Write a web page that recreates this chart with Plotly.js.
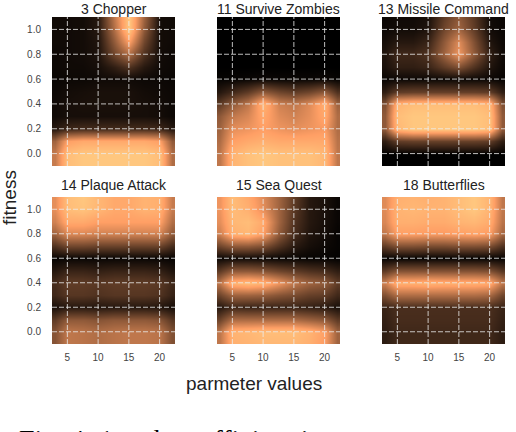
<!DOCTYPE html>
<html>
<head>
<meta charset="utf-8">
<script src="https://cdn.plot.ly/plotly-3.0.1.min.js"></script>
<style>
  html, body { margin: 0; padding: 0; background: #fff; }
  #chart { width: 516px; height: 432px; }
</style>
</head>
<body>
<div id="chart"></div>
<script>
// Columns: parameter values, rows: fitness levels (bottom first)
const paramValues = [3, 5, 7.5, 10, 12.5, 15, 17.5, 20, 22];
const fitnessLevels = [-0.1, 0, 0.1, 0.2, 0.3, 0.4, 0.5, 0.6, 0.7, 0.8, 0.9, 1.0, 1.1];
const xTicks = [5, 10, 15, 20];
const yTicks = [0, 0.2, 0.4, 0.6, 0.8, 1.0];

const gameTitles = ['3 Chopper', '11 Survive Zombies', '13 Missile Command',
                    '14 Plaque Attack', '15 Sea Quest', '18 Butterflies'];

// Normalised density per game
const chopper = [
    [0.62, 0.95, 1.00, 1.00, 1.00, 1.00, 1.00, 0.95, 0.55],
    [0.62, 0.95, 1.00, 1.00, 1.00, 1.00, 1.00, 0.95, 0.55],
    [0.50, 0.80, 0.85, 0.85, 0.85, 0.85, 0.85, 0.80, 0.45],
    [0.12, 0.20, 0.22, 0.22, 0.22, 0.22, 0.22, 0.20, 0.12],
    [0.05, 0.07, 0.07, 0.07, 0.07, 0.07, 0.07, 0.06, 0.04],
    [0.05, 0.07, 0.08, 0.08, 0.08, 0.08, 0.07, 0.06, 0.04],
    [0.04, 0.06, 0.07, 0.08, 0.08, 0.08, 0.06, 0.05, 0.04],
    [0.03, 0.04, 0.04, 0.05, 0.05, 0.05, 0.04, 0.04, 0.03],
    [0.04, 0.05, 0.05, 0.07, 0.15, 0.25, 0.12, 0.05, 0.04],
    [0.04, 0.05, 0.06, 0.09, 0.35, 0.55, 0.25, 0.06, 0.04],
    [0.05, 0.05, 0.06, 0.10, 0.45, 0.80, 0.35, 0.06, 0.05],
    [0.05, 0.05, 0.06, 0.12, 0.55, 1.00, 0.45, 0.06, 0.05],
    [0.05, 0.05, 0.06, 0.12, 0.60, 1.00, 0.50, 0.06, 0.05]
];
const survive = [
    [0.60, 0.90, 0.97, 1.00, 0.97, 0.97, 0.97, 0.92, 0.60],
    [0.60, 0.90, 0.97, 1.00, 0.97, 0.97, 0.97, 0.92, 0.60],
    [0.55, 0.80, 0.85, 0.88, 0.85, 0.85, 0.85, 0.85, 0.58],
    [0.50, 0.72, 0.75, 0.80, 0.75, 0.72, 0.75, 0.78, 0.55],
    [0.45, 0.60, 0.68, 0.85, 0.70, 0.65, 0.72, 0.85, 0.55],
    [0.30, 0.45, 0.60, 0.90, 0.65, 0.60, 0.70, 0.88, 0.50],
    [0.12, 0.20, 0.30, 0.45, 0.35, 0.30, 0.35, 0.45, 0.25],
    [0.02, 0.02, 0.03, 0.04, 0.03, 0.03, 0.03, 0.04, 0.02],
    [0.00, 0.00, 0.00, 0.00, 0.00, 0.00, 0.00, 0.00, 0.00],
    [0.00, 0.00, 0.00, 0.00, 0.00, 0.00, 0.00, 0.00, 0.00],
    [0.00, 0.00, 0.00, 0.00, 0.00, 0.00, 0.00, 0.00, 0.00],
    [0.00, 0.00, 0.00, 0.00, 0.00, 0.00, 0.00, 0.00, 0.00],
    [0.00, 0.00, 0.00, 0.00, 0.00, 0.00, 0.00, 0.00, 0.00]
];
const missile = [
    [0.00, 0.00, 0.00, 0.00, 0.00, 0.00, 0.00, 0.00, 0.00],
    [0.00, 0.00, 0.00, 0.00, 0.00, 0.00, 0.00, 0.00, 0.00],
    [0.15, 0.30, 0.32, 0.32, 0.32, 0.32, 0.32, 0.30, 0.15],
    [0.45, 0.92, 1.00, 1.00, 1.00, 1.00, 1.00, 0.95, 0.45],
    [0.45, 0.95, 1.00, 1.00, 1.00, 1.00, 1.00, 0.95, 0.45],
    [0.40, 0.90, 0.95, 0.95, 0.95, 0.95, 0.95, 0.90, 0.40],
    [0.15, 0.30, 0.32, 0.32, 0.32, 0.32, 0.32, 0.30, 0.15],
    [0.03, 0.04, 0.04, 0.04, 0.04, 0.04, 0.04, 0.04, 0.02],
    [0.08, 0.15, 0.15, 0.18, 0.30, 0.40, 0.25, 0.10, 0.04],
    [0.10, 0.20, 0.20, 0.25, 0.50, 0.75, 0.45, 0.15, 0.05],
    [0.07, 0.12, 0.12, 0.18, 0.45, 0.70, 0.40, 0.10, 0.04],
    [0.04, 0.06, 0.06, 0.10, 0.35, 0.50, 0.30, 0.06, 0.03],
    [0.03, 0.05, 0.05, 0.08, 0.30, 0.45, 0.28, 0.05, 0.03]
];
const plaque = [
    [0.42, 0.60, 0.58, 0.55, 0.58, 0.60, 0.60, 0.58, 0.40],
    [0.42, 0.60, 0.58, 0.55, 0.58, 0.60, 0.60, 0.58, 0.40],
    [0.30, 0.45, 0.45, 0.42, 0.45, 0.45, 0.45, 0.42, 0.28],
    [0.08, 0.12, 0.12, 0.11, 0.12, 0.12, 0.12, 0.11, 0.07],
    [0.20, 0.27, 0.27, 0.25, 0.27, 0.27, 0.27, 0.25, 0.17],
    [0.22, 0.30, 0.30, 0.28, 0.30, 0.30, 0.30, 0.28, 0.20],
    [0.12, 0.18, 0.18, 0.16, 0.18, 0.18, 0.18, 0.16, 0.10],
    [0.02, 0.03, 0.03, 0.03, 0.03, 0.03, 0.03, 0.03, 0.02],
    [0.25, 0.35, 0.35, 0.33, 0.33, 0.33, 0.33, 0.33, 0.22],
    [0.50, 0.68, 0.68, 0.65, 0.65, 0.65, 0.65, 0.65, 0.45],
    [0.65, 0.85, 0.85, 0.80, 0.80, 0.80, 0.80, 0.80, 0.55],
    [0.72, 0.95, 0.98, 0.92, 0.85, 0.85, 0.90, 0.88, 0.62],
    [0.72, 0.95, 1.00, 0.92, 0.85, 0.85, 0.90, 0.88, 0.62]
];
const seaQuest = [
    [0.60, 0.88, 0.90, 0.92, 0.92, 0.92, 0.88, 0.78, 0.50],
    [0.60, 0.90, 0.92, 0.95, 0.95, 0.95, 0.90, 0.80, 0.50],
    [0.35, 0.55, 0.55, 0.55, 0.55, 0.55, 0.50, 0.45, 0.30],
    [0.12, 0.20, 0.18, 0.18, 0.18, 0.18, 0.16, 0.13, 0.08],
    [0.35, 0.50, 0.50, 0.48, 0.42, 0.38, 0.32, 0.30, 0.20],
    [0.60, 0.90, 0.95, 0.90, 0.75, 0.60, 0.50, 0.45, 0.30],
    [0.30, 0.45, 0.45, 0.42, 0.35, 0.30, 0.25, 0.22, 0.15],
    [0.04, 0.05, 0.05, 0.04, 0.03, 0.03, 0.02, 0.02, 0.01],
    [0.35, 0.45, 0.45, 0.40, 0.25, 0.13, 0.07, 0.04, 0.02],
    [0.65, 0.88, 0.92, 0.80, 0.45, 0.22, 0.10, 0.06, 0.02],
    [0.72, 0.92, 0.95, 0.85, 0.50, 0.25, 0.12, 0.07, 0.03],
    [0.75, 0.95, 0.88, 0.72, 0.50, 0.28, 0.12, 0.08, 0.03],
    [0.75, 0.95, 0.85, 0.70, 0.50, 0.30, 0.12, 0.08, 0.03]
];
const butterflies = [
    [0.14, 0.20, 0.20, 0.20, 0.20, 0.20, 0.20, 0.20, 0.14],
    [0.14, 0.20, 0.20, 0.20, 0.20, 0.20, 0.20, 0.20, 0.14],
    [0.16, 0.22, 0.22, 0.22, 0.22, 0.22, 0.22, 0.22, 0.16],
    [0.18, 0.23, 0.23, 0.23, 0.23, 0.23, 0.23, 0.23, 0.18],
    [0.40, 0.55, 0.55, 0.55, 0.55, 0.55, 0.55, 0.52, 0.35],
    [0.65, 0.88, 0.88, 0.90, 0.88, 0.88, 0.88, 0.85, 0.60],
    [0.30, 0.42, 0.42, 0.42, 0.42, 0.42, 0.42, 0.40, 0.28],
    [0.02, 0.02, 0.02, 0.02, 0.02, 0.02, 0.02, 0.02, 0.02],
    [0.30, 0.40, 0.40, 0.38, 0.38, 0.40, 0.40, 0.38, 0.25],
    [0.60, 0.80, 0.80, 0.78, 0.78, 0.80, 0.82, 0.78, 0.52],
    [0.68, 0.88, 0.88, 0.86, 0.86, 0.90, 0.92, 0.86, 0.58],
    [0.70, 0.90, 0.92, 0.90, 0.90, 0.95, 1.00, 0.90, 0.60],
    [0.70, 0.88, 0.90, 0.88, 0.90, 0.95, 1.00, 0.90, 0.60]
];
const grids = [chopper, survive, missile, plaque, seaQuest, butterflies];

// matplotlib "copper"
const copper = [
    [0, 'rgb(0,0,0)'],
    [0.8, 'rgb(255,159,101)'],
    [1, 'rgb(255,199,127)']
];

const W = 516, H = 432;
const colPx = [[52, 175], [217, 340], [382, 505]];
const rowPx = [[17, 166], [197, 344]];
const titleMid = [9, 185];
const fontSans = 'Liberation Sans, Arial, sans-serif';

const data = [];
const layout = {
    width: W, height: H,
    margin: { l: 0, r: 0, t: 0, b: 0 },
    paper_bgcolor: '#fff',
    plot_bgcolor: '#fff',
    showlegend: false,
    font: { family: fontSans, color: '#444' },
    annotations: [],
    shapes: []
};

grids.forEach((z, i) => {
    const r = Math.floor(i / 3), c = i % 3;
    const n = i === 0 ? '' : String(i + 1);
    const xa = 'xaxis' + n, ya = 'yaxis' + n;
    const xr = 'x' + n, yr = 'y' + n;

    data.push({
        type: 'heatmap',
        x: paramValues,
        y: fitnessLevels,
        z: z,
        zmin: 0, zmax: 1,
        zsmooth: 'best',
        colorscale: copper,
        showscale: false,
        xaxis: xr, yaxis: yr,
        hoverinfo: 'skip'
    });

    layout[xa] = {
        domain: [colPx[c][0] / W, colPx[c][1] / W],
        anchor: yr,
        range: [2.5, 22.5],
        tickvals: xTicks,
        showticklabels: r === 1,
        ticks: '',
        ticklabelstandoff: 6,
        tickfont: { size: 10, color: '#444', family: fontSans },
        showgrid: false, zeroline: false, showline: false,
        fixedrange: true
    };
    layout[ya] = {
        domain: [1 - rowPx[r][1] / H, 1 - rowPx[r][0] / H],
        anchor: xr,
        range: [-0.1, 1.1],
        tickvals: yTicks,
        ticktext: yTicks.map(v => v.toFixed(1)),
        showticklabels: c === 0,
        ticks: '',
        ticklabelstandoff: 10,
        tickfont: { size: 10, color: '#444', family: fontSans },
        showgrid: false, zeroline: false, showline: false,
        fixedrange: true
    };

    // dashed grid drawn on top of the image
    xTicks.forEach(v => layout.shapes.push({
        type: 'line', xref: xr, yref: yr, layer: 'above',
        x0: v, x1: v, y0: -0.1, y1: 1.1,
        line: { color: 'rgba(235,235,235,0.8)', width: 1, dash: '5px,2px' }
    }));
    yTicks.forEach(v => layout.shapes.push({
        type: 'line', xref: xr, yref: yr, layer: 'above',
        x0: 2.5, x1: 22.5, y0: v, y1: v,
        line: { color: 'rgba(235,235,235,0.8)', width: 1, dash: '5px,2px' }
    }));

    layout.annotations.push({
        text: gameTitles[i],
        xref: 'paper', yref: 'paper',
        x: (colPx[c][0] + colPx[c][1]) / 2 / W,
        y: 1 - titleMid[r] / H,
        xanchor: 'center', yanchor: 'middle',
        showarrow: false,
        font: { size: 14, color: '#222', family: fontSans }
    });
});

// shared axis titles and the cut-off caption
layout.annotations.push({
    text: 'fitness',
    xref: 'paper', yref: 'paper',
    x: 10 / W, y: 1 - 198 / H,
    xanchor: 'center', yanchor: 'middle',
    textangle: -90, showarrow: false,
    font: { size: 19, color: '#222', family: fontSans }
});
layout.annotations.push({
    text: 'parmeter values',
    xref: 'paper', yref: 'paper',
    x: 254 / W, y: 1 - 383 / H,
    xanchor: 'center', yanchor: 'middle',
    showarrow: false,
    font: { size: 19, color: '#222', family: fontSans }
});
layout.annotations.push({
    text: 'Fig. 4: 1-task coefficient impact on parameter settings',
    xref: 'paper', yref: 'paper',
    x: 17 / W, y: 1 - 439 / H,
    xanchor: 'left', yanchor: 'middle',
    showarrow: false,
    font: { size: 28, color: '#000', family: 'Liberation Serif, Times New Roman, serif' }
});

Plotly.newPlot('chart', data, layout, { displayModeBar: false, staticPlot: true });
</script>
</body>
</html>
